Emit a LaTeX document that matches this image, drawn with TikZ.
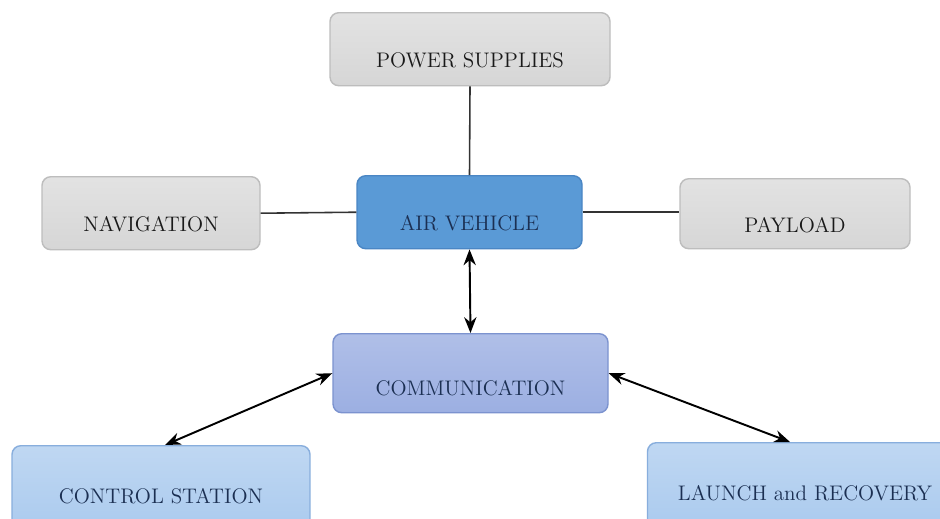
\documentclass[tikz,border=0pt]{standalone}
\usepackage{tikz}
\usetikzlibrary{arrows.meta}
\definecolor{grayfill}{HTML}{D6D6D6}
\definecolor{grayline}{HTML}{BDBDBD}
\definecolor{avfill}{HTML}{5A9AD6}
\definecolor{avline}{HTML}{4A86C4}
\definecolor{comfill}{HTML}{9CAFE2}
\definecolor{comline}{HTML}{7C93CF}
\definecolor{lowfill}{HTML}{AACAEE}
\definecolor{lowline}{HTML}{88AEDD}
\definecolor{navytext}{HTML}{1B2F52}

\begin{document}
\begin{tikzpicture}[
  box/.style={rounded corners=5pt, inner xsep=0pt, inner ysep=0pt, anchor=north,
    font=\fontsize{12}{14}\selectfont, text height=1.1cm, text depth=0.36cm},
  graybox/.style={box, draw=grayline, line width=0.8pt, top color=grayfill!70!white,
    bottom color=grayfill, text=black!90},
  bluebox/.style={box, line width=0.8pt, text=navytext},
  link/.style={draw=black!80, line width=0.9pt},
  dlink/.style={draw=black, line width=1.1pt, {Stealth[length=9pt,width=7pt]}-{Stealth[length=9pt,width=7pt]}}
]
  \useasboundingbox[fill=white] (0,0) rectangle (18.8,-10.36);
  \node [graybox, minimum width=5.6cm] (power) at (9.4,-0.24) {POWER SUPPLIES};
  \node [bluebox, draw=avline, fill=avfill, minimum width=4.5cm] (air) at (9.39,-3.5) {AIR VEHICLE};
  \node [graybox, minimum width=4.36cm] (nav) at (3.02,-3.52) {NAVIGATION};
  \node [graybox, minimum width=4.6cm, text height=1.08cm, text depth=0.32cm] (payload) at (15.9,-3.56) {PAYLOAD};
  \node [bluebox, draw=comline, top color=comfill!80!white, bottom color=comfill, minimum width=5.5cm,
    text height=1.23cm, text depth=0.35cm] (comm) at (9.41,-6.66) {COMMUNICATION};
  \node [bluebox, draw=lowline, top color=lowfill!75!white, bottom color=lowfill, minimum width=5.96cm,
    text height=1.15cm, text depth=0.6cm] (control) at (3.22,-8.9) {CONTROL STATION};
  \node [bluebox, draw=lowline, top color=lowfill!75!white, bottom color=lowfill, minimum width=6.3cm,
    text height=1.15cm, text depth=0.6cm] (launch) at (16.1,-8.84) {LAUNCH and RECOVERY};
  \draw [link] (power.south) -- (air.north);
  \draw [link] (nav.east) -- (air.west);
  \draw [link] (air.east) -- (air.east -| payload.west);
  \draw [dlink] (air.south) -- (comm.north);
  \draw [dlink] (comm.west) -- ([xshift=0.08cm]control.north);
  \draw [dlink] (comm.east) -- ([xshift=-0.3cm]launch.north);
\end{tikzpicture}
\end{document}
